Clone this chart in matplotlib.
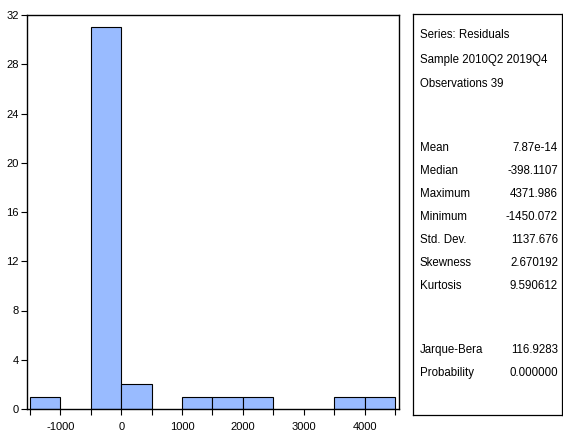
import matplotlib.pyplot as plt
import numpy as np

# histogram bins (width 500) and counts
bin_left = [-1500, -500, 0, 1000, 1500, 2000, 3500, 4000]
counts = [1, 31, 2, 1, 1, 1, 1, 1]
bin_width = 500

xticks = np.arange(-1500, 4501, 500)
yticks = [0, 4, 8, 12, 16, 20, 24, 28, 32]

header = ["Series: Residuals", "Sample 2010Q2 2019Q4", "Observations 39"]
stat_names = ["Mean", "Median", "Maximum", "Minimum", "Std. Dev.", "Skewness", "Kurtosis"]
stat_values = ["7.87e-14", "-398.1107", "4371.986", "-1450.072", "1137.676", "2.670192", "9.590612"]
test_names = ["Jarque-Bera", "Probability"]
test_values = ["116.9283", "0.000000"]

plt.rcParams['font.family'] = ['Liberation Sans', 'DejaVu Sans']

W, H = 563, 446
fig = plt.figure(figsize=(W / 100, H / 100), dpi=100)

ax = fig.add_axes([27 / W, (H - 409) / H, 372 / W, 394 / H])
ax.bar(bin_left, counts, width=bin_width, align='edge', color='#99BBFF',
       edgecolor='black', linewidth=0.8)
ax.set_xlim(-1549, 4566)
ax.set_ylim(0, 32)
ax.set_xticks(xticks)
ax.set_xticklabels([str(t) if t % 1000 == 0 else '' for t in xticks])
ax.set_yticks(yticks)
ax.tick_params(axis='both', direction='out', length=4, width=0.8, labelsize=8, pad=2)
ax.tick_params(axis='x', pad=5)
for s in ax.spines.values():
    s.set_linewidth(1.0)

# statistics box
bx = fig.add_axes([413 / W, (H - 415) / H, 149 / W, 401 / H])
bx.set_xticks([])
bx.set_yticks([])
bx.set_xlim(413, 562)
bx.set_ylim(415, 14)
for s in bx.spines.values():
    s.set_linewidth(0.9)

fs = 8.3
tx = 420
vx = 558
for i, t in enumerate(header):
    bx.text(tx, 35 + i * 24.5, t, fontsize=fs, va='center', ha='left')
for i, (n, v) in enumerate(zip(stat_names, stat_values)):
    y = 148 + i * 23
    bx.text(tx, y, n, fontsize=fs, va='center', ha='left')
    bx.text(vx, y, v, fontsize=fs, va='center', ha='right')
for i, (n, v) in enumerate(zip(test_names, test_values)):
    y = 350 + i * 23
    bx.text(tx, y, n, fontsize=fs, va='center', ha='left')
    bx.text(vx, y, v, fontsize=fs, va='center', ha='right')

fig.savefig('out.png', dpi=100)
